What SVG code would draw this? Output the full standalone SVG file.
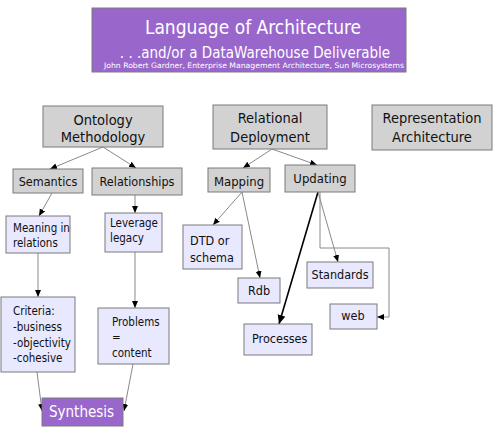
<svg xmlns="http://www.w3.org/2000/svg" width="504" height="432" viewBox="0 0 504 432">
<style>
text{font-family:"DejaVu Sans Condensed","DejaVu Sans","Liberation Sans",sans-serif;fill:#111}
.g{fill:#d2d2d2;stroke:#7a7a7a;stroke-width:1}
.l{fill:#e8e8fe;stroke:#7a7a7a;stroke-width:1}
.p{fill:#9966cc;stroke:#7a7a7a;stroke-width:1}
.h{font-size:14.5px;text-anchor:middle}
.m{font-size:13px;text-anchor:middle}
.s{font-size:11.5px}
.r{font-size:12.5px}
.c{text-anchor:middle}
.w{fill:#fff}
.ln{fill:none;stroke:#8a8a8a;stroke-width:1}
</style>
<defs>
<marker id="a" markerUnits="userSpaceOnUse" markerWidth="8" markerHeight="7" refX="7" refY="3" orient="auto"><path d="M0,0 L7,3 L0,6 z" fill="#000"/></marker>
<marker id="b" markerUnits="userSpaceOnUse" markerWidth="10" markerHeight="9" refX="9" refY="4" orient="auto"><path d="M0,0 L9,4 L0,8 z" fill="#000"/></marker>
</defs>
<g id="title">
<rect class="p" x="92" y="8" width="314" height="64"/>
<text class="w c" x="253" y="34" style="font-size:19px">Language of Architecture</text>
<text class="w c" x="255" y="58" style="font-size:15px">. . .and/or a DataWarehouse Deliverable</text>
<text class="w c" x="254" y="68" style="font-size:7.5px" textLength="300" lengthAdjust="spacingAndGlyphs">John Robert Gardner, Enterprise Management Architecture, Sun Microsystems</text>
</g>
<g id="connectors">
<path class="ln" d="M103,147 L50,169" marker-end="url(#a)"/>
<path class="ln" d="M103,147 L136,168" marker-end="url(#a)"/>
<path class="ln" d="M272,149 L243,168" marker-end="url(#a)"/>
<path class="ln" d="M272,149 L317,165" marker-end="url(#a)"/>
<path class="ln" d="M52,193 L39,216" marker-end="url(#a)"/>
<path class="ln" d="M135,195 L135,213" marker-end="url(#a)"/>
<path class="ln" d="M38,253 L38,297" marker-end="url(#a)"/>
<path class="ln" d="M135,252 L135,308" marker-end="url(#a)"/>
<path class="ln" d="M37,372 L42,411" marker-end="url(#a)"/>
<path class="ln" d="M133,364 L124,411" marker-end="url(#a)"/>
<path class="ln" d="M242,192 L213,225" marker-end="url(#a)"/>
<path class="ln" d="M242,192 L260,278" marker-end="url(#a)"/>
<path d="M318,192 L279,324" fill="none" stroke="#000" stroke-width="1.6" marker-end="url(#b)"/>
<path class="ln" d="M318,192 L338,262" marker-end="url(#a)"/>
<path class="ln" d="M320,192 L320,248 L389,248 L389,317 L377,317" marker-end="url(#a)"/>
</g>
<g id="ontology"><rect class="g" x="43" y="106" width="120" height="41"/><text class="h" x="103" y="125">Ontology</text><text class="h" x="103" y="142">Methodology</text></g>
<g id="relational"><rect class="g" x="213" y="105" width="114" height="44"/><text class="h" x="270" y="123">Relational</text><text class="h" x="270" y="142">Deployment</text></g>
<g id="representation"><rect class="g" x="372" y="105" width="120" height="45"/><text class="h" x="432" y="123">Representation</text><text class="h" x="432" y="142">Architecture</text></g>
<g id="semantics"><rect class="g" x="13" y="169" width="70" height="24"/><text class="r c" x="48" y="186">Semantics</text></g>
<g id="relationships"><rect class="g" x="92" y="168" width="90" height="27"/><text class="r c" x="137" y="186">Relationships</text></g>
<g id="mapping"><rect class="g" x="208" y="168" width="62" height="24"/><text class="m" x="239" y="186">Mapping</text></g>
<g id="updating"><rect class="g" x="285" y="165" width="70" height="27"/><text class="m" x="320" y="183">Updating</text></g>
<g id="meaning"><rect class="l" x="6" y="216" width="64" height="37"/><text class="s" x="13" y="232">Meaning in</text><text class="s" x="13" y="247">relations</text></g>
<g id="leverage"><rect class="l" x="105" y="213" width="57" height="39"/><text class="s" x="110" y="227">Leverage</text><text class="s" x="110" y="242">legacy</text></g>
<g id="criteria"><rect class="l" x="1" y="297" width="74" height="75"/><text class="s" x="13" y="315">Criteria:</text><text class="s" x="13" y="331">-business</text><text class="s" x="13" y="347">-objectivity</text><text class="s" x="13" y="362">-cohesive</text></g>
<g id="problems"><rect class="l" x="98" y="308" width="71" height="56"/><text class="s" x="112" y="326">Problems</text><text class="s" x="112" y="341">=</text><text class="s" x="112" y="357">content</text></g>
<g id="synthesis"><rect class="p" x="42" y="398" width="81" height="28"/><text class="w" x="49" y="417" style="font-size:15px">Synthesis</text></g>
<g id="dtd"><rect class="l" x="183" y="225" width="59" height="44"/><text class="r" x="190" y="245">DTD or</text><text class="r" x="190" y="262">schema</text></g>
<g id="rdb"><rect class="l" x="238" y="278" width="42" height="25"/><text class="r c" x="259" y="295">Rdb</text></g>
<g id="processes"><rect class="l" x="244" y="324" width="68" height="31"/><text class="r" x="252" y="343">Processes</text></g>
<g id="standards"><rect class="l" x="307" y="262" width="66" height="26"/><text class="r c" x="340" y="279">Standards</text></g>
<g id="web"><rect class="l" x="330" y="304" width="47" height="25"/><text class="r c" x="353" y="320">web</text></g>
</svg>
